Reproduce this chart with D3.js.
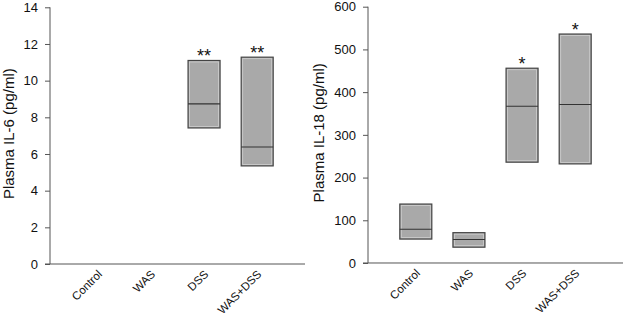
<!DOCTYPE html>
<html>
<head>
<meta charset="utf-8">
<script src="https://cdn.jsdelivr.net/npm/d3@7"></script>
<style>
  body { margin: 0; background: #fff; }
  svg text { font-family: Arial, "Liberation Sans", sans-serif; fill: #111; }
</style>
</head>
<body>
<div id="chart"></div>
<script>
// categories and box values
var groups = ["Control", "WAS", "DSS", "WAS+DSS"];

// IL-6: only DSS groups have boxes
var il6Low    = [null, null, 7.42, 5.35];
var il6Median = [null, null, 8.73, 6.38];
var il6High   = [null, null, 11.1, 11.28];
var il6Stars  = ["", "", "**", "**"];
var il6Ticks  = [0, 2, 4, 6, 8, 10, 12, 14];

// IL-18
var il18Low    = [56, 37, 236, 232];
var il18Median = [79, 55, 367, 371];
var il18High   = [138, 71, 456, 536];
var il18Stars  = ["", "", "*", "*"];
var il18Ticks  = [0, 100, 200, 300, 400, 500, 600];

var svg = d3.select("#chart").append("svg")
  .attr("width", 624)
  .attr("height", 315);

const panel = (opts) => {
  var g = svg.append("g")
    .attr("transform", "translate(" + opts.left + "," + opts.top + ")");

  var x = d3.scalePoint()
    .domain(groups)
    .range([0, opts.width])
    .padding(0.9);

  var y = d3.scaleLinear()
    .domain([0, opts.max])
    .range([opts.height, 0]);

  // y axis
  var ya = g.append("g")
    .call(d3.axisLeft(y).tickValues(opts.ticks).tickSize(5).tickPadding(7));
  ya.selectAll("text").style("font-size", "13px");
  ya.selectAll("line, path").attr("stroke", "#555");
  ya.select(".domain").attr("d", "M0," + opts.height + "V0");

  // x axis line
  g.append("line")
    .attr("x1", -5).attr("x2", opts.width)
    .attr("y1", opts.height).attr("y2", opts.height)
    .attr("stroke", "#555");

  // category labels
  g.selectAll(".cat")
    .data(groups)
    .enter()
    .append("text")
      .attr("class", "cat")
      .attr("text-anchor", "end")
      .attr("transform", function(d) {
        return "translate(" + (x(d) + 5) + "," + (opts.height + 11) + ") rotate(-45)";
      })
      .style("font-size", "11.5px")
      .text(function(d) { return d; });

  var bw = 32;
  var rows = groups.map(function(d, i) {
    return {g: d, lo: opts.low[i], med: opts.median[i], hi: opts.high[i], star: opts.stars[i]};
  }).filter(function(d) { return d.lo != null; });

  var boxes = g.append("g").selectAll("g")
    .data(rows)
    .enter()
    .append("g");

  boxes.append("rect")
    .attr("x", function(d) { return x(d.g) - bw / 2; })
    .attr("y", function(d) { return y(d.hi); })
    .attr("width", bw)
    .attr("height", function(d) { return y(d.lo) - y(d.hi); })
    .attr("fill", "#a9a9a9")
    .attr("stroke", "#444")
    .attr("stroke-width", 1.2);

  // light inner edge
  boxes.append("rect")
    .attr("x", function(d) { return x(d.g) - bw / 2 + 1.5; })
    .attr("y", function(d) { return y(d.hi) + 1.5; })
    .attr("width", bw - 3)
    .attr("height", function(d) { return y(d.lo) - y(d.hi) - 3; })
    .attr("fill", "none")
    .attr("stroke", "#cfcfcf")
    .attr("stroke-width", 0.8);

  boxes.append("line")
    .attr("x1", function(d) { return x(d.g) - bw / 2; })
    .attr("x2", function(d) { return x(d.g) + bw / 2; })
    .attr("y1", function(d) { return y(d.med); })
    .attr("y2", function(d) { return y(d.med); })
    .attr("stroke", "#333")
    .attr("stroke-width", 1.2);

  boxes.append("text")
    .attr("x", function(d) { return x(d.g); })
    .attr("y", function(d) { return y(d.hi) + 2; })
    .attr("text-anchor", "middle")
    .style("font-size", "18px")
    .text(function(d) { return d.star; });

  // y axis title
  g.append("text")
    .attr("text-anchor", "middle")
    .attr("transform", "translate(" + opts.titleX + "," + (opts.height / 2 - 2) + ") rotate(-90)")
    .style("font-size", "15px")
    .text(opts.title);
};

panel({left: 50, top: 7.3, width: 255, height: 256.7, max: 14, ticks: il6Ticks,
  low: il6Low, median: il6Median, high: il6High, stars: il6Stars,
  title: "Plasma IL-6 (pg/ml)", titleX: -36});

panel({left: 368, top: 6.7, width: 255, height: 256.3, max: 600, ticks: il18Ticks,
  low: il18Low, median: il18Median, high: il18High, stars: il18Stars,
  title: "Plasma IL-18 (pg/ml)", titleX: -44});
</script>
</body>
</html>
